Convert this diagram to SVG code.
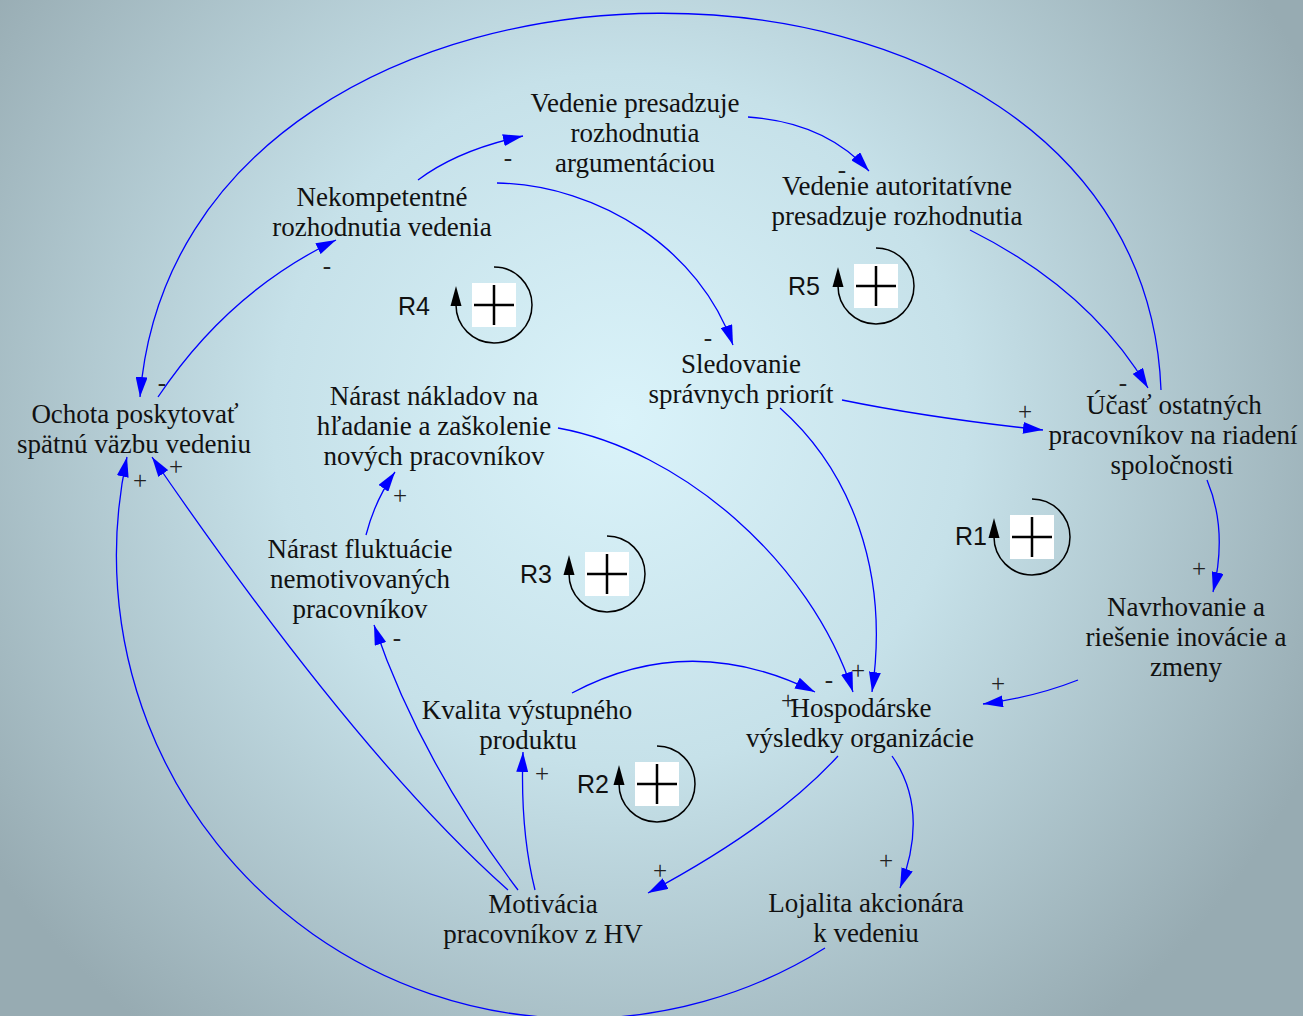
<svg xmlns="http://www.w3.org/2000/svg" xmlns:xlink="http://www.w3.org/1999/xlink" width="1303" height="1016" viewBox="0 0 1303 1016">
<style>
.n text{font-family:"Liberation Serif","Times New Roman",serif;font-size:27px;fill:#111;text-anchor:middle}
.c path{fill:none;stroke:#0000ff;stroke-width:1.3;marker-end:url(#ah)}
.p{font-family:"Liberation Serif","Times New Roman",serif;font-size:25px;fill:#222;text-anchor:middle}
.r{font-family:"Liberation Sans",Arial,sans-serif;font-size:25px;fill:#111;text-anchor:end}
</style>
<defs>
<radialGradient id="bg" gradientUnits="userSpaceOnUse" cx="620" cy="420" r="770">
<stop offset="0" stop-color="#daf3fa"/>
<stop offset="0.45" stop-color="#c6e1e9"/>
<stop offset="1" stop-color="#97abb2"/>
</radialGradient>
<marker id="ah" viewBox="0 0 20 12" refX="20" refY="6" markerWidth="20" markerHeight="12" markerUnits="userSpaceOnUse" orient="auto">
<path d="M0,0 L20,6 L0,12 z" fill="#0000ff"/>
</marker>
<g id="loop">
<path d="M0,-38 A38,38 0 1 1 -38,0" fill="none" stroke="#000" stroke-width="1.5"/>
<path d="M-38,-19 L-32.5,1 L-43.5,1 z" fill="#000"/>
<rect x="-22" y="-22" width="44" height="44" fill="#fff"/>
<path d="M-20,0 H20 M0,-20 V20" stroke="#000" stroke-width="2.5"/>
</g>
</defs>
<rect width="1303" height="1016" fill="url(#bg)"/>

<g id="connectors" class="c">
<path d="M1161,390 C1142,-115 180,-112 140,397"/>
<path d="M825,948 A463,463 0 0 1 127,457"/>
<path d="M158,397 Q228,292 336,240"/>
<path d="M418,180 Q458,150 523,136"/>
<path d="M497,183 C600,185 700,250 733,345"/>
<path d="M748,117 Q825,122 869,171"/>
<path d="M970,230 Q1090,290 1148,388"/>
<path d="M842,400 Q930,418 1043,430"/>
<path d="M780,408 C850,470 890,570 872,692"/>
<path d="M558,428 C680,450 810,560 853,692"/>
<path d="M1207,480 Q1228,530 1213,592"/>
<path d="M1078,680 Q1035,697 983,704"/>
<path d="M572,693 Q690,630 815,692"/>
<path d="M838,756 Q775,825 648,893"/>
<path d="M892,756 Q930,810 900,888"/>
<path d="M508,890 Q358,757 152,457"/>
<path d="M518,890 Q420,760 374,625"/>
<path d="M535,890 Q520,830 523,752"/>
<path d="M366,535 Q375,500 395,472"/>
</g>

<g id="polarities">
<text class="p" x="162" y="391">-</text>
<text class="p" x="327" y="274">-</text>
<text class="p" x="508" y="166">-</text>
<text class="p" x="708" y="346">-</text>
<text class="p" x="842" y="178">-</text>
<text class="p" x="1123" y="391">-</text>
<text class="p" x="1025" y="420">+</text>
<text class="p" x="858" y="679">+</text>
<text class="p" x="829" y="688">-</text>
<text class="p" x="1199" y="577">+</text>
<text class="p" x="998" y="692">+</text>
<text class="p" x="788" y="709">+</text>
<text class="p" x="660" y="879">+</text>
<text class="p" x="886" y="869">+</text>
<text class="p" x="176" y="475">+</text>
<text class="p" x="397" y="646">-</text>
<text class="p" x="542" y="782">+</text>
<text class="p" x="400" y="504">+</text>
<text class="p" x="140" y="489">+</text>
</g>

<g id="n-vedenie-arg" class="n"><text x="635" y="112">Vedenie presadzuje</text><text x="635" y="142">rozhodnutia</text><text x="635" y="172">argumentáciou</text></g>
<g id="n-nekompetentne" class="n"><text x="382" y="206">Nekompetentné</text><text x="382" y="236">rozhodnutia vedenia</text></g>
<g id="n-vedenie-aut" class="n"><text x="897" y="195">Vedenie autoritatívne</text><text x="897" y="225">presadzuje rozhodnutia</text></g>
<g id="n-sledovanie" class="n"><text x="741" y="373">Sledovanie</text><text x="741" y="403">správnych priorít</text></g>
<g id="n-ochota" class="n"><text x="135" y="423">Ochota poskytovať</text><text x="134" y="453">spätnú väzbu vedeniu</text></g>
<g id="n-naklady" class="n"><text x="434" y="405">Nárast nákladov na</text><text x="434" y="435">hľadanie a zaškolenie</text><text x="434" y="465">nových pracovníkov</text></g>
<g id="n-ucast" class="n"><text x="1174" y="414">Účasť ostatných</text><text x="1173" y="444">pracovníkov na riadení</text><text x="1172" y="474">spoločnosti</text></g>
<g id="n-fluktuacia" class="n"><text x="360" y="558">Nárast fluktuácie</text><text x="360" y="588">nemotivovaných</text><text x="360" y="618">pracovníkov</text></g>
<g id="n-navrhovanie" class="n"><text x="1186" y="616">Navrhovanie a</text><text x="1186" y="646">riešenie inovácie a</text><text x="1186" y="676">zmeny</text></g>
<g id="n-kvalita" class="n"><text x="527" y="719">Kvalita výstupného</text><text x="528" y="749">produktu</text></g>
<g id="n-hospodarske" class="n"><text x="861" y="717">Hospodárske</text><text x="860" y="747">výsledky organizácie</text></g>
<g id="n-motivacia" class="n"><text x="543" y="913">Motivácia</text><text x="543" y="943">pracovníkov z HV</text></g>
<g id="n-lojalita" class="n"><text x="866" y="912">Lojalita akcionára</text><text x="866" y="942">k vedeniu</text></g>

<g id="loops">
<use xlink:href="#loop" href="#loop" x="1032" y="537"/><text class="r" x="987" y="545">R1</text>
<use xlink:href="#loop" href="#loop" x="657" y="784"/><text class="r" x="609" y="793">R2</text>
<use xlink:href="#loop" href="#loop" x="607" y="574"/><text class="r" x="552" y="583">R3</text>
<use xlink:href="#loop" href="#loop" x="494" y="305"/><text class="r" x="430" y="315">R4</text>
<use xlink:href="#loop" href="#loop" x="876" y="286"/><text class="r" x="820" y="295">R5</text>
</g>
</svg>
